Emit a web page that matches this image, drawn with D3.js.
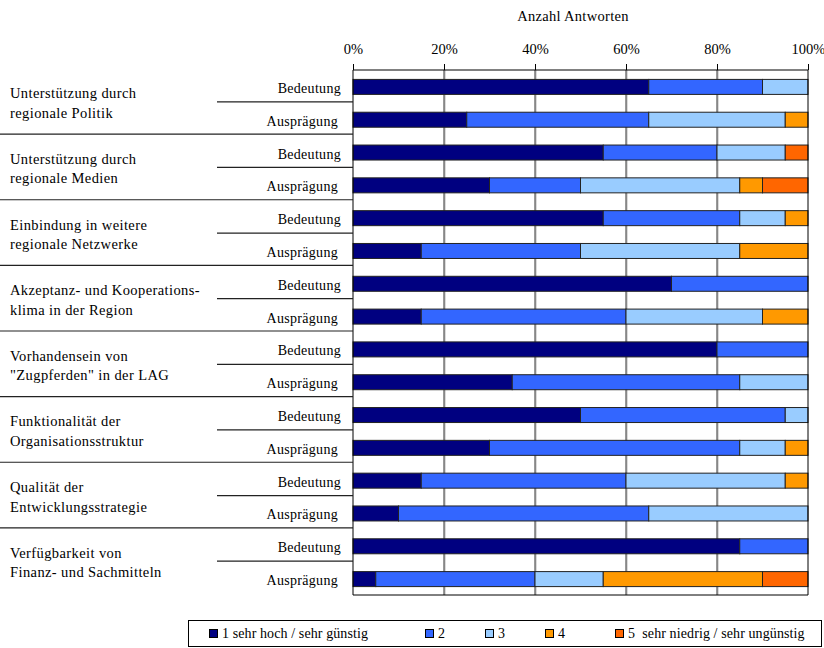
<!DOCTYPE html>
<html><head><meta charset="utf-8">
<script src="https://cdn.jsdelivr.net/npm/d3@7"></script>
<style>
html,body{margin:0;padding:0;background:#fff;}
svg{display:block;font-family:"Liberation Serif","Times New Roman",serif;}
</style></head>
<body>
<svg id="chart" width="824" height="648"></svg>
<script>
const groups = [
  ["Unterstützung durch","regionale Politik"],
  ["Unterstützung durch","regionale Medien"],
  ["Einbindung in weitere","regionale Netzwerke"],
  ["Akzeptanz- und Kooperations-","klima in der Region"],
  ["Vorhandensein von","\"Zugpferden\" in der LAG"],
  ["Funktionalität der","Organisationsstruktur"],
  ["Qualität der","Entwicklungsstrategie"],
  ["Verfügbarkeit von","Finanz- und Sachmitteln"]
];
const subLabels = ["Bedeutung","Ausprägung"];
const seriesNames = ["1 sehr hoch / sehr günstig","2","3","4","5  sehr niedrig / sehr ungünstig"];
const colors = ["#000080","#3366FF","#99CCFF","#FF9900","#FF6600"];
const tickValues = [0,20,40,60,80,100];
const axisTitle = "Anzahl Antworten";
// percentage per rating 1..5 for each row (Bedeutung, Ausprägung per group)
const s1 = [65,25,55,30,55,15,70,15,80,35,50,30,15,10,85,5];
const s2 = [25,40,25,20,30,35,30,45,20,50,45,55,45,55,15,35];
const s3 = [10,30,15,35,10,35, 0,30, 0,15, 5,10,35,35, 0,15];
const s4 = [ 0, 5, 0, 5, 5,15, 0,10, 0, 0, 0, 5, 5, 0, 0,35];
const s5 = [ 0, 0, 5,10, 0, 0, 0, 0, 0, 0, 0, 0, 0, 0, 0,10];

const rows = [];
groups.forEach((g,gi)=>subLabels.forEach((s,si)=>rows.push({id:gi*2+si, g:gi, sub:s})));
const series = [s1,s2,s3,s4,s5];
const table = rows.map((r,i)=>{const o={id:r.id}; series.forEach((s,k)=>o["k"+k]=s[i]); return o;});
const keys = series.map((s,k)=>"k"+k);
const stacked = d3.stack().keys(keys)(table);

const svg = d3.select("#chart");
const pLeft=353, pRight=808, pTop=70, pBottom=595;
const x = d3.scaleLinear().domain([0,100]).range([pLeft,pRight]);
const y = d3.scaleBand().domain(rows.map(r=>r.id)).range([pTop,pBottom]).padding(0);
const yg = d3.scaleBand().domain(groups.map((g,i)=>i)).range([pTop-1.5,pBottom-1.5]);
const barH = 15;
const barY = id => y(id) + (y.bandwidth()-barH)/2 + 0.5;

// gridlines
svg.append("g").selectAll("line").data(tickValues.slice(1,-1)).join("line")
  .attr("x1",d=>x(d)+1).attr("x2",d=>x(d)+1).attr("y1",pTop).attr("y2",pBottom)
  .attr("stroke","#b8b8b8").attr("stroke-width",1);
svg.append("g").selectAll("line").data(tickValues.slice(1,-1)).join("line")
  .attr("x1",d=>x(d)).attr("x2",d=>x(d)).attr("y1",pTop).attr("y2",pBottom)
  .attr("stroke","#333").attr("stroke-width",1);

// bars
const bars = svg.append("g");
stacked.forEach((layer,k)=>{
  bars.append("g").selectAll("rect").data(layer.filter(d=>d[1]-d[0]>0)).join("rect")
    .attr("x",d=>x(d[0])).attr("width",d=>x(d[1])-x(d[0]))
    .attr("y",d=>barY(d.data.id)).attr("height",barH)
    .attr("fill",colors[k]).attr("stroke","#222").attr("stroke-width",1);
});

// frame
svg.append("line").attr("x1",pLeft).attr("x2",pLeft).attr("y1",pTop).attr("y2",pBottom).attr("stroke","#000");
svg.append("line").attr("x1",pRight).attr("x2",pRight).attr("y1",pTop).attr("y2",pBottom).attr("stroke","#000");
svg.append("line").attr("x1",pLeft).attr("x2",pRight).attr("y1",pBottom).attr("y2",pBottom).attr("stroke","#000");

// top axis
const axis = d3.axisTop(x).tickValues(tickValues).tickFormat(d=>d+"%").tickSize(6).tickPadding(10);
const ag = svg.append("g").attr("transform",`translate(0,${pTop})`).call(axis);
ag.select(".domain").attr("stroke","#000").attr("d",`M${pLeft},0H${pRight}`);
ag.selectAll(".tick line").attr("stroke","#000");
ag.selectAll(".tick text").attr("fill","#000").attr("font-size",14.5)
  .attr("font-family","Liberation Serif, serif");

svg.append("text").attr("x",573).attr("y",21).attr("text-anchor","middle")
  .attr("font-size",14.5).attr("letter-spacing",0.3).text(axisTitle);

// left labels
const lab = svg.append("g");
lab.selectAll("text.sub").data(rows).join("text").attr("class","sub")
  .attr("x",d=>d.sub==="Bedeutung"?341:338).attr("y",d=>y(d.id)+y.bandwidth()/2+6.5)
  .attr("text-anchor","end").attr("font-size",14).attr("letter-spacing",0.3).text(d=>d.sub);
// short separators
lab.selectAll("line.short").data(groups.map((g,i)=>i)).join("line").attr("class","short")
  .attr("x1",217).attr("x2",pLeft).attr("y1",i=>yg(i)+yg.bandwidth()/2+0.5).attr("y2",i=>yg(i)+yg.bandwidth()/2+0.5)
  .attr("stroke","#222").attr("stroke-width",1.2);
// long separators
lab.selectAll("line.long").data(groups.map((g,i)=>i).slice(1)).join("line").attr("class","long")
  .attr("x1",0).attr("x2",pLeft).attr("y1",i=>yg(i)).attr("y2",i=>yg(i))
  .attr("stroke","#222").attr("stroke-width",1.2);
// group names
groups.forEach((g,i)=>{
  const cy = yg(i)+yg.bandwidth()/2;
  g.forEach((t,j)=>{
    lab.append("text").attr("x",10).attr("y",cy-3+j*19.5).attr("font-size",14.5)
      .attr("letter-spacing",0.4).text(t);
  });
});

// legend
const lg = svg.append("g");
lg.append("rect").attr("x",188.5).attr("y",620.5).attr("width",633).attr("height",26)
  .attr("fill","#fff").attr("stroke","#000");
const legX = [209,425,485,545,615];
seriesNames.forEach((n,k)=>{
  lg.append("rect").attr("x",legX[k]+0.5).attr("y",629.5).attr("width",8).attr("height",8)
    .attr("fill",colors[k]).attr("stroke","#000");
  lg.append("text").attr("x",legX[k]+13).attr("y",638).attr("font-size",14)
    .attr("letter-spacing",0.1).style("white-space","pre").text(n);
});
</script>
</body></html>
